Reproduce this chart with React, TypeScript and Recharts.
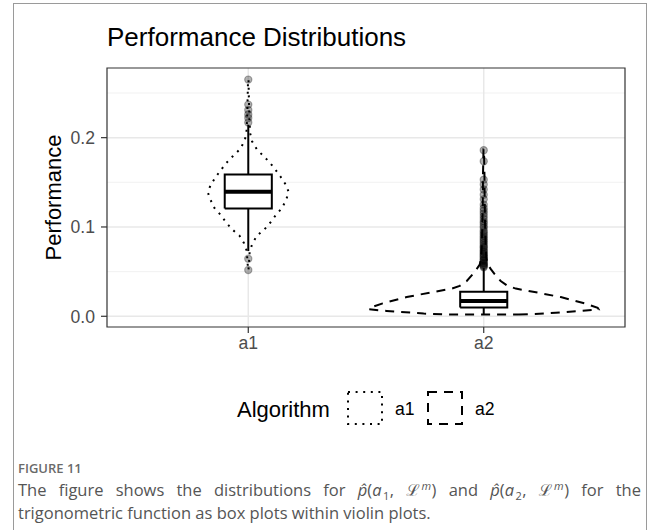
import React from 'react';
import { ComposedChart, Area, Line, Scatter, XAxis, YAxis, CartesianGrid, ReferenceArea } from 'recharts';

// ---- data ----
const categories = ['a1', 'a2'];
const categoryPositions = [1, 2];
const yTicks = [0, 0.1, 0.2];
const yMinorTicks = [0.05, 0.15, 0.25];
const yDomain = [-0.012, 0.278];

const boxQ1 = [0.1207, 0.0097];
const boxMedian = [0.1393, 0.0171];
const boxQ3 = [0.1587, 0.0276];
const whiskerLow = [0.073, 0.0019];
const whiskerHigh = [0.2145, 0.054];
const boxHalfWidth = 0.1;

const a1Outliers = [0.265, 0.237, 0.231, 0.226, 0.222, 0.217, 0.0644, 0.0518];
const a2Outliers = [
  0.186, 0.1736, 0.153, 0.1475, 0.142, 0.136, 0.131, 0.125, 0.121, 0.118, 0.115, 0.112, 0.109,
  0.106, 0.104, 0.101, 0.099, 0.096, 0.094, 0.092, 0.09, 0.088, 0.086, 0.084, 0.082, 0.08,
  0.078, 0.077, 0.075, 0.073, 0.072, 0.07, 0.069, 0.067, 0.066, 0.064, 0.063, 0.062, 0.06,
  0.059, 0.058, 0.057, 0.056, 0.055,
];

const a1ViolinY = [0.0525, 0.06, 0.068, 0.073, 0.0823, 0.0905, 0.0972, 0.1047, 0.114, 0.1214, 0.1307, 0.1389, 0.1475, 0.1568, 0.1642, 0.1717, 0.1791, 0.1866, 0.1959, 0.205, 0.22, 0.24, 0.265];
const a1ViolinHalfWidth = [0.001, 0.003, 0.005, 0.006, 0.019, 0.038, 0.068, 0.093, 0.119, 0.144, 0.161, 0.172, 0.159, 0.136, 0.115, 0.093, 0.066, 0.037, 0.016, 0.008, 0.005, 0.003, 0.001];

const a2ViolinY = [0.0019, 0.003, 0.004, 0.006, 0.0078, 0.0095, 0.0145, 0.0215, 0.0265, 0.031, 0.034, 0.0395, 0.047, 0.0525, 0.058, 0.065, 0.08, 0.1, 0.13, 0.16, 0.187];
const a2ViolinHalfWidth = [0.149, 0.255, 0.306, 0.412, 0.488, 0.484, 0.429, 0.327, 0.229, 0.136, 0.102, 0.072, 0.047, 0.031, 0.017, 0.011, 0.008, 0.006, 0.004, 0.003, 0.001];

// ---- derived tables ----
const violinFill = (center: number, ys: number[], hws: number[]) =>
  ys.map((y, i) => ({ y, range: [center - hws[i], center + hws[i]] }));

const violinOutline = (center: number, ys: number[], hws: number[]) => {
  const right = ys.map((y, i) => ({ y, x: center + hws[i] }));
  const left = ys.map((y, i) => ({ y, x: center - hws[i] })).reverse();
  return [...right, ...left, right[0]];
};

const boxOutline = (i: number) => {
  const c = categoryPositions[i];
  return [
    { x: c - boxHalfWidth, y: boxQ1[i] },
    { x: c + boxHalfWidth, y: boxQ1[i] },
    { x: c + boxHalfWidth, y: boxQ3[i] },
    { x: c - boxHalfWidth, y: boxQ3[i] },
    { x: c - boxHalfWidth, y: boxQ1[i] },
  ];
};
const medianLine = (i: number) => [
  { x: categoryPositions[i] - boxHalfWidth, y: boxMedian[i] },
  { x: categoryPositions[i] + boxHalfWidth, y: boxMedian[i] },
];
const lowerWhisker = (i: number) => [
  { x: categoryPositions[i], y: whiskerLow[i] },
  { x: categoryPositions[i], y: boxQ1[i] },
];
const upperWhisker = (i: number) => [
  { x: categoryPositions[i], y: boxQ3[i] },
  { x: categoryPositions[i], y: whiskerHigh[i] },
];

const outlierData = [
  ...a1Outliers.map((y) => ({ x: categoryPositions[0], y })),
  ...a2Outliers.map((y) => ({ x: categoryPositions[1], y })),
];

const FONT = '"Liberation Sans", Arial, Helvetica, sans-serif';
const DOTTED = '2 5.6';
const DASHED = '9 7';

const OutlierDot = (props: any) => (
  <circle cx={props.cx} cy={props.cy} r={3.6} fill="#000" fillOpacity={0.3} stroke="#000" strokeOpacity={0.3} strokeWidth={1.2} />
);

const YLabel = (props: any) => {
  const vb = props.viewBox || {};
  const cy = (vb.y ?? 68) + (vb.height ?? 259) / 2;
  return (
    <text x={61} y={cy} transform={`rotate(-90, 61, ${cy})`} textAnchor="middle" fontSize={22} fontFamily={FONT} fill="#000">
      Performance
    </text>
  );
};

const lineCommon = { type: 'linear' as const, dot: false, activeDot: false, isAnimationActive: false, stroke: '#000', dataKey: 'x', legendType: 'none' as const };
const subStyle = { fontSize: 11, lineHeight: 0, paddingLeft: 1.5, paddingRight: 0.5 };

export default function App() {
  return (
    <div style={{ position: 'absolute', left: 0, top: 0, width: 658, height: 530, background: '#fff', overflow: 'hidden' }}>
      <div style={{ position: 'absolute', left: 13, top: 3, width: 632, height: 600, border: '1px solid #9a9a9a' }} />
      <div style={{ position: 'absolute', left: 0, top: 0 }}>
        <ComposedChart
          width={658}
          height={400}
          layout="vertical"
          margin={{ top: 68, right: 33, left: 0, bottom: 43 }}
          style={{ fontFamily: FONT }}
        >
          <CartesianGrid horizontal vertical={false} horizontalValues={yMinorTicks} stroke="#ededed" strokeWidth={0.8} />
          <CartesianGrid horizontal vertical horizontalValues={yTicks} verticalValues={categoryPositions} stroke="#e8e8e8" strokeWidth={1.5} />
          <XAxis
            type="number"
            dataKey="x"
            domain={[0.4, 2.6]}
            ticks={categoryPositions}
            allowDataOverflow
            tickFormatter={(v: number) => categories[v - 1]}
            axisLine={false}
            tickLine={{ stroke: '#333', strokeWidth: 1.2 }}
            tickSize={6}
            tickMargin={4}
            height={30}
            tick={{ fill: '#4d4d4d', fontSize: 17.6, fontFamily: FONT }}
          />
          <YAxis
            type="number"
            dataKey="y"
            domain={yDomain}
            ticks={yTicks}
            reversed
            allowDataOverflow
            tickFormatter={(v: number) => v.toFixed(1)}
            axisLine={false}
            tickLine={{ stroke: '#333', strokeWidth: 1.2 }}
            tickSize={6}
            tickMargin={6}
            width={107}
            tick={{ fill: '#4d4d4d', fontSize: 17.6, fontFamily: FONT }}
            label={<YLabel />}
          />

          <Scatter data={outlierData} dataKey="y" shape={<OutlierDot />} isAnimationActive={false} legendType="none" />

          <Area data={violinFill(1, a1ViolinY, a1ViolinHalfWidth)} dataKey="range" type="linear" fill="#fff" fillOpacity={1} stroke="none" isAnimationActive={false} dot={false} activeDot={false} legendType="none" />
          <Area data={violinFill(2, a2ViolinY, a2ViolinHalfWidth)} dataKey="range" type="linear" fill="#fff" fillOpacity={1} stroke="none" isAnimationActive={false} dot={false} activeDot={false} legendType="none" />
          <Line {...lineCommon} data={violinOutline(1, a1ViolinY, a1ViolinHalfWidth)} strokeWidth={2} strokeDasharray={DOTTED} />
          <Line {...lineCommon} data={violinOutline(2, a2ViolinY, a2ViolinHalfWidth)} strokeWidth={2} strokeDasharray={DASHED} />

          {[0, 1].map((i) => (
            <Line key={`lw${i}`} {...lineCommon} data={lowerWhisker(i)} strokeWidth={2} />
          ))}
          {[0, 1].map((i) => (
            <Line key={`uw${i}`} {...lineCommon} data={upperWhisker(i)} strokeWidth={2} />
          ))}
          {[0, 1].map((i) => (
            <Line key={`box${i}`} {...lineCommon} data={boxOutline(i)} strokeWidth={2} />
          ))}
          {[0, 1].map((i) => (
            <Line key={`med${i}`} {...lineCommon} data={medianLine(i)} strokeWidth={4} />
          ))}

          <ReferenceArea x1={0.4} x2={2.6} y1={yDomain[0]} y2={yDomain[1]} fill="none" fillOpacity={0} stroke="#333" strokeWidth={1.2} ifOverflow="visible" />
        </ComposedChart>
      </div>

      <svg width={658} height={440} style={{ position: 'absolute', left: 0, top: 0, pointerEvents: 'none' }}>
        <text x={107} y={46} fontSize={26} fontFamily={FONT} fill="#000">Performance Distributions</text>
        <text x={237} y={417} fontSize={22} fontFamily={FONT} fill="#000">Algorithm</text>
        <rect x={348} y={392} width={34} height={32} fill="#fff" stroke="#000" strokeWidth={2} strokeDasharray={DOTTED} />
        <text x={395} y={415} fontSize={17.6} fontFamily={FONT} fill="#000">{categories[0]}</text>
        <rect x={428} y={392} width={34} height={32} fill="#fff" stroke="#000" strokeWidth={2} strokeDasharray={DASHED} />
        <text x={475} y={415} fontSize={17.6} fontFamily={FONT} fill="#000">{categories[1]}</text>
      </svg>

      <div style={{ position: 'absolute', left: 18, top: 458, width: 623, fontFamily: '"Open Sans", "Noto Sans", sans-serif', color: '#555' }}>
        <div style={{ fontSize: 13, fontWeight: 600, color: '#6a6a6a', lineHeight: '20px' }}>FIGURE 11</div>
        <div style={{ fontSize: 16.5, lineHeight: '23px', textAlign: 'justify', textAlignLast: 'justify', whiteSpace: 'nowrap' as const }}>
          The figure shows the distributions for{' '}
          <i>p̂</i>(<i>a</i><sub style={subStyle}>1</sub>, ℒ<sup style={subStyle}><i>m</i></sup>) and{' '}
          <i>p̂</i>(<i>a</i><sub style={subStyle}>2</sub>, ℒ<sup style={subStyle}><i>m</i></sup>) for the
        </div>
        <div style={{ fontSize: 16.5, lineHeight: '23px' }}>trigonometric function as box plots within violin plots.</div>
      </div>
    </div>
  );
}
